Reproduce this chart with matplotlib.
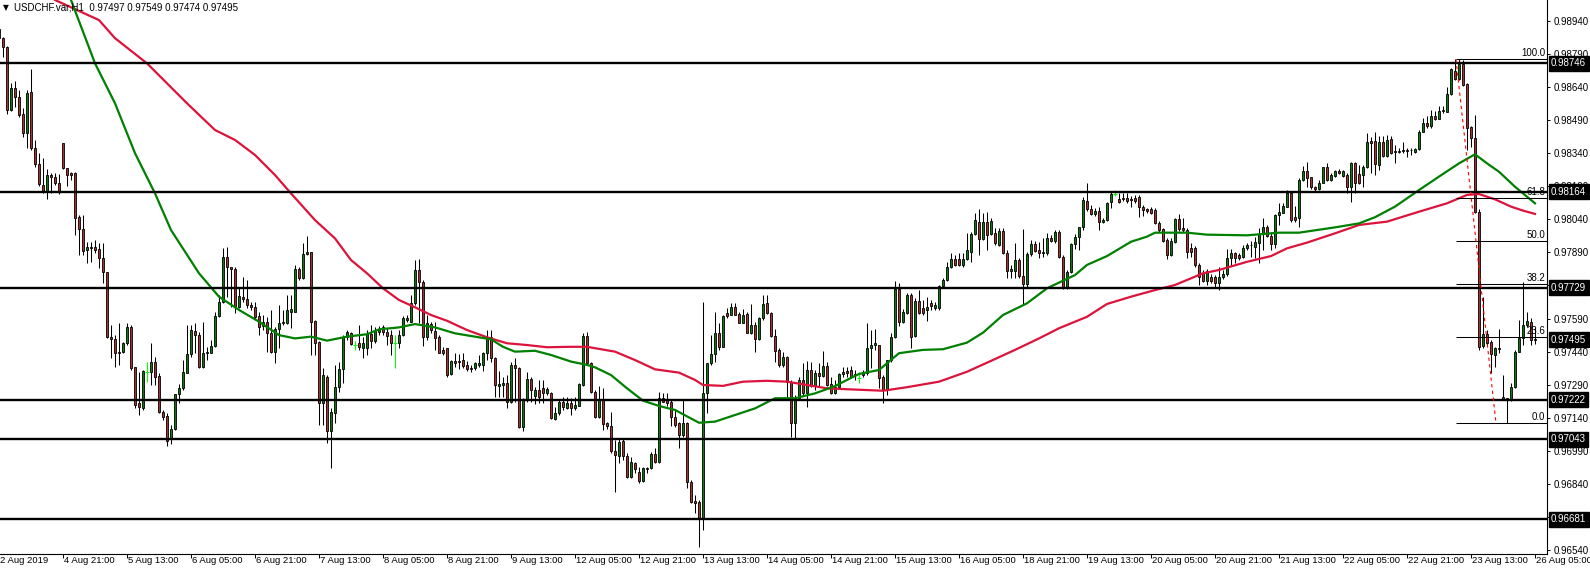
import matplotlib
matplotlib.use("Agg")
import matplotlib.pyplot as plt
from matplotlib.transforms import blended_transform_factory
import numpy as np

plt.rcParams['font.family'] = ['Liberation Sans', 'DejaVu Sans']

symbol = "USDCHF.var,H1"

# Hourly candles, prices in points (1 point = 0.00001)
opens_pts = [
    98900, 98860, 98819, 98535, 98633, 98592, 98515, 98432, 98615, 98361,
    98289, 98195, 98165, 98239, 98230, 98205, 98384, 98271, 98248, 98248,
    98049, 97994, 97900, 97913, 97913, 97904, 97866, 97800, 97508, 97496,
    97440, 97440, 97478, 97553, 97369, 97206, 97183, 97349, 97349, 97395,
    97330, 97168, 97149, 97043, 97088, 97248, 97274, 97345, 97429, 97535,
    97515, 97369, 97435, 97435, 97466, 97602, 97665, 97867, 97822, 97813,
    97644, 97689, 97677, 97651, 97641, 97602, 97556, 97576, 97525, 97440,
    97541, 97568, 97568, 97621, 97621, 97813, 97772, 97882, 97890, 97579,
    97482, 97209, 97327, 97082, 97163, 97281, 97360, 97505, 97526, 97470,
    97481, 97455, 97455, 97519, 97490, 97530, 97550, 97529, 97514, 97481,
    97481, 97515, 97583, 97576, 97659, 97810, 97757, 97505, 97565, 97534,
    97508, 97447, 97455, 97339, 97399, 97399, 97402, 97380, 97365, 97365,
    97380, 97380, 97433, 97505, 97410, 97284, 97289, 97297, 97213, 97380,
    97365, 97100, 97221, 97315, 97239, 97266, 97274, 97251, 97251, 97134,
    97161, 97213, 97183, 97206, 97183, 97195, 97289, 97511, 97387, 97259,
    97143, 97224, 97115, 97105, 96991, 96969, 97037, 96969, 96871, 96937,
    96896, 96855, 96912, 96912, 96976, 96941, 97229, 97224, 97213, 97143,
    97118, 97063, 97118, 96851, 96765, 96760, 96681, 97251, 97387, 97429,
    97523, 97463, 97614, 97606, 97644, 97611, 97571, 97611, 97523, 97561,
    97496, 97591, 97659, 97614, 97511, 97447, 97380, 97414, 97304, 97116,
    97229, 97312, 97251, 97357, 97284, 97342, 97330, 97375, 97293, 97251,
    97279, 97339, 97354, 97357, 97334, 97319, 97334, 97342, 97455, 97470,
    97470, 97327, 97266, 97402, 97505, 97722, 97576, 97617, 97697, 97512,
    97671, 97636, 97629, 97659, 97636, 97636, 97737, 97765, 97825, 97858,
    97858, 97833, 97858, 97893, 97973, 98029, 97949, 98029, 97973, 97976,
    97923, 97988, 97888, 97807, 97807, 97855, 97783, 97747, 97882, 97928,
    97900, 97893, 97886, 97953, 97943, 97983, 97867, 97727, 97802, 97928,
    97961, 98003, 98124, 98085, 98064, 98079, 98029, 98036, 98117, 98154,
    98130, 98135, 98135, 98127, 98135, 98139, 98094, 98085, 98085, 98082,
    98024, 97994, 97946, 97878, 97938, 98040, 97999, 97991, 97908, 97908,
    97833, 97795, 97761, 97780, 97777, 97750, 97777, 97792, 97863, 97888,
    97878, 97870, 97908, 97922, 97915, 97934, 97973, 98003, 97964, 97928,
    98059, 98069, 98097, 98160, 98051, 98044, 98218, 98260, 98230, 98185,
    98175, 98205, 98275, 98218, 98236, 98258, 98236, 98240, 98185, 98296,
    98245, 98240, 98278, 98396, 98396, 98286, 98388, 98326, 98402, 98348,
    98348, 98352, 98349, 98352, 98346, 98357, 98436, 98474, 98462, 98508,
    98495, 98532, 98527, 98607, 98713, 98674, 98743, 98652, 98458, 98406,
    98074, 97466, 97519, 97484, 97425, 97457, 97233, 97229, 97221, 97279,
    97440, 97500, 97561, 97576, 97497,
]
highs_pts = [
    98920, 98867, 98825, 98656, 98666, 98625, 98544, 98625, 98719, 98399,
    98340, 98317, 98267, 98249, 98248, 98243, 98385, 98272, 98255, 98255,
    98059, 98059, 97938, 97938, 97946, 97931, 97931, 97801, 97561, 97515,
    97568, 97485, 97571, 97561, 97372, 97349, 97357, 97395, 97481, 97417,
    97342, 97176, 97162, 97108, 97248, 97293, 97402, 97561, 97561, 97568,
    97530, 97576, 97462, 97493, 97621, 97697, 97908, 97915, 97825, 97825,
    97734, 97777, 97765, 97666, 97666, 97621, 97606, 97598, 97629, 97553,
    97651, 97629, 97697, 97697, 97833, 97825, 97931, 97964, 97891, 97583,
    97488, 97365, 97334, 97185, 97380, 97395, 97515, 97538, 97530, 97490,
    97561, 97508, 97538, 97561, 97553, 97556, 97561, 97546, 97538, 97515,
    97538, 97602, 97606, 97697, 97855, 97858, 97765, 97606, 97576, 97576,
    97515, 97462, 97458, 97402, 97433, 97429, 97433, 97399, 97380, 97395,
    97425, 97440, 97538, 97538, 97417, 97354, 97327, 97334, 97395, 97410,
    97372, 97229, 97349, 97327, 97281, 97312, 97312, 97281, 97259, 97191,
    97221, 97233, 97233, 97230, 97236, 97297, 97523, 97530, 97393, 97266,
    97284, 97274, 97123, 97168, 97040, 97048, 97048, 96980, 96964, 96941,
    96919, 96919, 96919, 96987, 97002, 97259, 97251, 97251, 97221, 97176,
    97123, 97224, 97123, 96859, 96791, 96768, 97666, 97387, 97515, 97621,
    97568, 97606, 97636, 97659, 97659, 97621, 97632, 97621, 97656, 97576,
    97598, 97697, 97697, 97621, 97541, 97455, 97440, 97420, 97312, 97244,
    97327, 97390, 97399, 97395, 97357, 97390, 97444, 97395, 97327, 97312,
    97342, 97369, 97372, 97375, 97357, 97349, 97357, 97568, 97538, 97541,
    97470, 97334, 97402, 97525, 97761, 97750, 97632, 97707, 97706, 97683,
    97719, 97674, 97686, 97674, 97666, 97742, 97772, 97848, 97888, 97878,
    97886, 97886, 97979, 97983, 98067, 98085, 98069, 98073, 98045, 98000,
    98000, 98000, 97900, 97833, 97931, 97864, 97994, 97891, 97946, 97943,
    97938, 97953, 97976, 97968, 97991, 97991, 97878, 97810, 97932, 97973,
    98005, 98141, 98203, 98104, 98091, 98097, 98045, 98118, 98163, 98172,
    98159, 98159, 98159, 98145, 98150, 98150, 98104, 98091, 98095, 98091,
    98032, 98000, 97955, 97955, 98044, 98064, 98044, 98000, 97931, 97919,
    97842, 97810, 97813, 97792, 97787, 97825, 97810, 97904, 97904, 97893,
    97886, 97923, 97931, 97943, 97961, 97999, 98044, 98014, 97983, 98064,
    98115, 98115, 98172, 98168, 98100, 98225, 98281, 98300, 98233, 98190,
    98218, 98278, 98296, 98248, 98263, 98266, 98263, 98248, 98300, 98300,
    98286, 98286, 98432, 98414, 98436, 98417, 98417, 98421, 98417, 98376,
    98361, 98391, 98361, 98361, 98361, 98444, 98497, 98508, 98535, 98532,
    98553, 98553, 98640, 98724, 98764, 98764, 98759, 98657, 98462, 98512,
    98086, 97689, 97538, 97493, 97462, 97543, 97334, 97230, 97299, 97447,
    97583, 97757, 97621, 97592, 97549,
]
lows_pts = [
    98852, 98776, 98517, 98532, 98548, 98504, 98414, 98363, 98354, 98278,
    98192, 98160, 98133, 98159, 98195, 98153, 98267, 98192, 98218, 97968,
    97878, 97878, 97840, 97848, 97886, 97818, 97750, 97501, 97410, 97372,
    97380, 97433, 97470, 97357, 97183, 97153, 97176, 97304, 97289, 97289,
    97163, 97130, 97013, 97022, 97085, 97206, 97266, 97342, 97417, 97433,
    97365, 97365, 97402, 97433, 97463, 97598, 97662, 97689, 97644, 97614,
    97636, 97666, 97636, 97629, 97583, 97515, 97538, 97440, 97433, 97387,
    97455, 97561, 97565, 97546, 97620, 97765, 97769, 97878, 97425, 97425,
    97108, 97108, 97025, 96912, 97116, 97259, 97297, 97493, 97470, 97447,
    97447, 97410, 97425, 97455, 97478, 97515, 97515, 97470, 97425, 97365,
    97455, 97511, 97576, 97574, 97651, 97568, 97466, 97493, 97523, 97447,
    97433, 97425, 97327, 97334, 97372, 97360, 97365, 97354, 97349, 97357,
    97372, 97354, 97402, 97395, 97236, 97236, 97236, 97183, 97209, 97213,
    97093, 97082, 97213, 97213, 97203, 97206, 97206, 97244, 97134, 97130,
    97153, 97176, 97179, 97153, 97176, 97194, 97284, 97380, 97253, 97139,
    97138, 97085, 97088, 96980, 96806, 96934, 96949, 96866, 96866, 96889,
    96844, 96851, 96889, 96907, 96937, 96937, 97213, 97194, 97105, 97100,
    97002, 97055, 96821, 96753, 96708, 96555, 96632, 97161, 97380, 97395,
    97447, 97463, 97591, 97606, 97606, 97568, 97568, 97523, 97520, 97440,
    97493, 97583, 97611, 97505, 97395, 97369, 97369, 97233, 97055, 97048,
    97224, 97244, 97188, 97279, 97266, 97284, 97327, 97284, 97248, 97248,
    97274, 97324, 97327, 97319, 97312, 97297, 97327, 97334, 97365, 97447,
    97274, 97206, 97244, 97393, 97502, 97556, 97570, 97611, 97455, 97506,
    97611, 97606, 97580, 97629, 97629, 97629, 97733, 97760, 97819, 97828,
    97828, 97825, 97855, 97848, 97968, 97878, 97946, 97900, 97968, 97923,
    97919, 97882, 97772, 97774, 97772, 97774, 97651, 97728, 97873, 97891,
    97864, 97869, 97878, 97937, 97932, 97863, 97724, 97724, 97796, 97904,
    97900, 97991, 98077, 98059, 98055, 97991, 98023, 98032, 98091, 98145,
    98113, 98122, 98113, 98094, 98113, 98051, 98055, 98068, 98064, 98018,
    97983, 97937, 97858, 97873, 97932, 97987, 97982, 97863, 97870, 97825,
    97742, 97756, 97742, 97751, 97727, 97719, 97769, 97783, 97828, 97840,
    97855, 97863, 97900, 97870, 97863, 97840, 97900, 97959, 97900, 97908,
    98014, 98067, 98094, 98027, 98027, 98003, 98213, 98187, 98175, 98169,
    98172, 98203, 98213, 98214, 98233, 98245, 98231, 98160, 98119, 98160,
    98199, 98187, 98272, 98248, 98240, 98263, 98322, 98323, 98335, 98296,
    98339, 98341, 98323, 98331, 98339, 98354, 98435, 98453, 98453, 98489,
    98493, 98522, 98526, 98603, 98671, 98671, 98643, 98354, 98367, 98068,
    97447, 97455, 97470, 97345, 97369, 97433, 97221, 97116, 97217, 97275,
    97438, 97470, 97552, 97470, 97474,
]
closes_pts = [
    98860, 98819, 98535, 98633, 98595, 98512, 98432, 98610, 98361, 98289,
    98198, 98165, 98239, 98230, 98205, 98169, 98271, 98240, 98239, 98044,
    97994, 97897, 97913, 97910, 97900, 97866, 97800, 97508, 97496, 97433,
    97433, 97478, 97553, 97365, 97198, 97191, 97354, 97349, 97395, 97327,
    97168, 97145, 97035, 97090, 97248, 97274, 97349, 97429, 97538, 97515,
    97369, 97435, 97440, 97466, 97602, 97665, 97867, 97822, 97813, 97644,
    97692, 97677, 97651, 97641, 97598, 97553, 97576, 97523, 97440, 97541,
    97571, 97576, 97629, 97632, 97813, 97772, 97882, 97890, 97576, 97481,
    97209, 97334, 97082, 97168, 97281, 97360, 97505, 97530, 97473, 97470,
    97463, 97481, 97519, 97490, 97534, 97538, 97529, 97511, 97481, 97481,
    97515, 97591, 97591, 97659, 97810, 97757, 97505, 97568, 97538, 97501,
    97435, 97435, 97334, 97399, 97387, 97395, 97375, 97360, 97360, 97387,
    97387, 97435, 97505, 97410, 97289, 97293, 97297, 97213, 97380, 97365,
    97100, 97221, 97315, 97266, 97266, 97236, 97251, 97269, 97138, 97161,
    97213, 97188, 97209, 97183, 97198, 97293, 97511, 97387, 97259, 97143,
    97224, 97112, 97105, 96991, 96972, 97029, 96969, 96871, 96941, 96907,
    96855, 96912, 96909, 96976, 96941, 97229, 97213, 97209, 97143, 97108,
    97063, 97118, 96851, 96760, 96756, 96681, 97251, 97387, 97429, 97523,
    97463, 97602, 97602, 97644, 97606, 97571, 97606, 97523, 97561, 97496,
    97591, 97656, 97614, 97511, 97444, 97380, 97414, 97304, 97116, 97229,
    97312, 97251, 97357, 97284, 97342, 97330, 97375, 97289, 97251, 97279,
    97339, 97349, 97345, 97327, 97337, 97319, 97349, 97455, 97470, 97478,
    97319, 97266, 97402, 97508, 97722, 97576, 97621, 97697, 97508, 97671,
    97617, 97617, 97641, 97647, 97651, 97737, 97765, 97825, 97858, 97833,
    97833, 97858, 97900, 97973, 98036, 97949, 98029, 97968, 98033, 97931,
    97988, 97888, 97807, 97813, 97855, 97783, 97747, 97882, 97928, 97897,
    97888, 97886, 97953, 97943, 97983, 97867, 97727, 97802, 97928, 97961,
    98003, 98127, 98085, 98064, 98079, 98029, 98036, 98112, 98154, 98154,
    98119, 98130, 98124, 98132, 98124, 98094, 98082, 98079, 98069, 98024,
    97991, 97943, 97878, 97943, 98040, 97994, 97991, 97893, 97893, 97833,
    97780, 97761, 97807, 97761, 97750, 97780, 97792, 97863, 97888, 97863,
    97863, 97908, 97923, 97925, 97938, 97973, 98003, 97964, 97928, 98059,
    98074, 98100, 98160, 98036, 98036, 98218, 98260, 98225, 98185, 98175,
    98205, 98275, 98218, 98240, 98258, 98248, 98258, 98185, 98296, 98205,
    98205, 98278, 98388, 98384, 98290, 98388, 98326, 98399, 98339, 98344,
    98344, 98349, 98352, 98355, 98357, 98436, 98474, 98462, 98508, 98495,
    98532, 98535, 98607, 98719, 98674, 98743, 98648, 98452, 98406, 98074,
    97462, 97519, 97478, 97429, 97458, 97453, 97224, 97221, 97279, 97440,
    97500, 97561, 97580, 97493, 97495,
]

# Moving averages (bar index, value in points)
ma_green_bars = [18, 24, 29, 34, 39, 43, 50, 55, 60, 65, 70, 74, 78, 82, 87, 92, 95, 100, 104, 109,
                 114, 119, 123, 126, 129, 134, 138, 143, 147, 149, 153, 157, 161, 165, 169, 175, 179, 184, 189, 194,
                 199, 204, 209, 212, 215, 220, 225, 231, 236, 242, 246, 251, 257, 262, 269, 272, 277, 283, 287, 289,
                 297, 302, 312, 320, 325, 334, 340, 344, 349, 355, 360, 365, 369, 372, 375, 379, 384]
ma_green_pts = [99033, 98746, 98565, 98339, 98157, 97991, 97795, 97689, 97629, 97576, 97515, 97500, 97508, 97490, 97508, 97519, 97541, 97550, 97565, 97550,
                97523, 97508, 97496, 97462, 97440, 97444, 97425, 97395, 97380, 97369, 97334, 97274, 97218, 97194, 97176, 97118, 97123, 97153, 97183, 97229,
                97229, 97251, 97284, 97312, 97339, 97357, 97433, 97448, 97451, 97481, 97526, 97606, 97659, 97727, 97787, 97833, 97873, 97938, 97961, 97979,
                97979, 97970, 97967, 97979, 97979, 98003, 98021, 98049, 98097, 98172, 98233, 98293, 98334, 98293, 98255, 98187, 98112]
ma_red_bars = [14, 25, 29, 37, 47, 54, 59, 64, 69, 73, 79, 84, 88, 92, 96, 100, 104, 108, 112, 117,
               122, 127, 132, 137, 143, 147, 154, 159, 164, 170, 174, 176, 181, 186, 192, 197, 202, 207, 213, 221,
               227, 235, 242, 247, 254, 260, 265, 272, 277, 283, 289, 294, 301, 305, 312, 318, 322, 327, 334, 340,
               347, 355, 362, 367, 370, 374, 378, 381, 384]
ma_red_pts = [99033, 98942, 98860, 98746, 98565, 98444, 98399, 98331, 98240, 98157, 98036, 97953, 97855, 97795, 97727, 97674, 97641, 97606, 97580, 97538,
              97505, 97478, 97470, 97460, 97462, 97462, 97440, 97402, 97360, 97345, 97312, 97289, 97285, 97304, 97308, 97304, 97289, 97274, 97269, 97263,
              97279, 97304, 97349, 97390, 97448, 97500, 97546, 97598, 97656, 97689, 97719, 97742, 97795, 97810, 97847, 97873, 97908, 97934, 97976, 98014,
              98029, 98074, 98112, 98150, 98154, 98130, 98097, 98079, 98064]

# Horizontal levels, Fibonacci retracement
level_prices = [0.98746, 0.98164, 0.97729, 0.97222, 0.97043, 0.96681]
fib_high = 0.98764
fib_low = 0.97116
fib_anchor_bars = [364.25, 374.25]
fib_ratios = [0.0, 23.6, 38.2, 50.0, 61.8, 100.0]

price_ticks = [0.98940, 0.98790, 0.98640, 0.98490, 0.98340, 0.98190, 0.98040, 0.97890, 0.97740,
               0.97590, 0.97440, 0.97290, 0.97140, 0.96990, 0.96840, 0.96690, 0.96540]
time_label_bars = [0, 16, 32, 48, 64, 80, 96, 112, 128, 144, 160, 176, 192, 208, 224, 240, 256,
                   272, 288, 304, 320, 336, 352, 368, 384]
time_labels = ["2 Aug 2019", "4 Aug 21:00", "5 Aug 13:00", "6 Aug 05:00", "6 Aug 21:00", "7 Aug 13:00",
               "8 Aug 05:00", "8 Aug 21:00", "9 Aug 13:00", "12 Aug 05:00", "12 Aug 21:00", "13 Aug 13:00",
               "14 Aug 05:00", "14 Aug 21:00", "15 Aug 13:00", "16 Aug 05:00", "18 Aug 21:00", "19 Aug 13:00",
               "20 Aug 05:00", "20 Aug 21:00", "21 Aug 13:00", "22 Aug 05:00", "22 Aug 21:00", "23 Aug 13:00",
               "26 Aug 05:00"]

o = np.array(opens_pts) / 1e5
h = np.array(highs_pts) / 1e5
l = np.array(lows_pts) / 1e5
c = np.array(closes_pts) / 1e5
x = np.arange(len(c))

W, H = 1590, 573
fig = plt.figure(figsize=(W / 100, H / 100), dpi=100)
fig.patch.set_facecolor('white')
ax = fig.add_axes([0, 19 / H, 1547 / W, 554 / H])
ax.set_facecolor('white')
ax.set_xlim(0.25, 387.0)
ax.set_ylim(0.965234, 0.99033)

BULL = '#0b7a0b'
BEAR = '#a6322c'
FS = 7

up = c > o
dn = c < o
eq = c == o
top = np.maximum(h, np.maximum(o, c))
bot = np.minimum(l, np.minimum(o, c))

ne = ~eq
ax.vlines(x[ne], bot[ne], top[ne], color='black', lw=0.75, zorder=3)
ax.bar(x[up], (c - o)[up], bottom=o[up], width=0.72, color=BULL, edgecolor='black', linewidth=0.6, zorder=4)
ax.bar(x[dn], (o - c)[dn], bottom=c[dn], width=0.72, color=BEAR, edgecolor='black', linewidth=0.6, zorder=4)
ax.vlines(x[eq], bot[eq], top[eq], color='#00ff00', lw=0.75, zorder=4)
ax.hlines(o[eq], x[eq] - 0.4, x[eq] + 0.4, color='#00ff00', lw=0.75, zorder=4)

# moving averages
ax.plot(ma_red_bars, np.array(ma_red_pts) / 1e5, color='#dc143c', lw=1.6, zorder=5,
        solid_joinstyle='round')
ax.plot(ma_green_bars, np.array(ma_green_pts) / 1e5, color='#008000', lw=1.6, zorder=5,
        solid_joinstyle='round')

# horizontal levels
for p in level_prices:
    ax.axhline(p, color='black', lw=1.7, zorder=6)

# fibonacci
xr = ax.get_xlim()[1]
bt = blended_transform_factory(ax.transAxes, ax.transData)
for r in fib_ratios:
    p = fib_low + (fib_high - fib_low) * r / 100.0
    ax.hlines(p, fib_anchor_bars[0], xr, color='black', lw=0.75, zorder=6)
    ax.annotate(f"{r:.1f}", xy=(1.0, p), xycoords=bt, xytext=(-2, 1), textcoords='offset pixels',
                ha='right', va='bottom', fontsize=FS, color='black', zorder=7, annotation_clip=False)
ax.plot(fib_anchor_bars, [fib_high, fib_low], color='red', lw=0.8, ls=(0, (3, 3)), zorder=7)

# axes styling
for s in ['left', 'top']:
    ax.spines[s].set_visible(False)
for s in ['right', 'bottom']:
    ax.spines[s].set_color('black')
    ax.spines[s].set_linewidth(0.8)

ax.set_yticks(price_ticks)
ax.yaxis.set_ticks_position('right')
ax.tick_params(axis='y', direction='out', length=2.5, width=0.7, colors='black',
               labelright=True, labelleft=False, labelsize=FS, pad=2)
ax.set_yticklabels([f"{p:.5f}" for p in price_ticks])

ax.set_xticks(time_label_bars[1:])
ax.tick_params(axis='x', direction='out', length=3, width=0.7, colors='black', labelbottom=False)
bx = blended_transform_factory(ax.transData, ax.transAxes)
for b, t in zip(time_label_bars, time_labels):
    ax.annotate(t, xy=(b, 0), xycoords=bx, xytext=(1.5, -2), textcoords='offset pixels',
                ha='left', va='top', fontsize=6.8, color='black', annotation_clip=False)

# price boxes on the axis
for p in level_prices + [c[-1]]:
    ax.annotate(f"{p:.5f}", xy=(1.0, p), xycoords=bt, xytext=(4, 0), textcoords='offset pixels',
                ha='left', va='center', fontsize=FS, color='white', zorder=20, annotation_clip=False,
                bbox=dict(boxstyle='square,pad=0.25', fc='black', ec='black'))

# title
fig.text(3 / W, 1 - 8 / H, "\u25bc", fontsize=5.5, ha='left', va='center', family='DejaVu Sans')
fig.text(14 / W, 1 - 8 / H, f"{symbol}  {o[-1]:.5f} {h[-1]:.5f} {l[-1]:.5f} {c[-1]:.5f}",
         fontsize=FS, ha='left', va='center', color='black')

fig.savefig('out.png', dpi=100, facecolor='white')
